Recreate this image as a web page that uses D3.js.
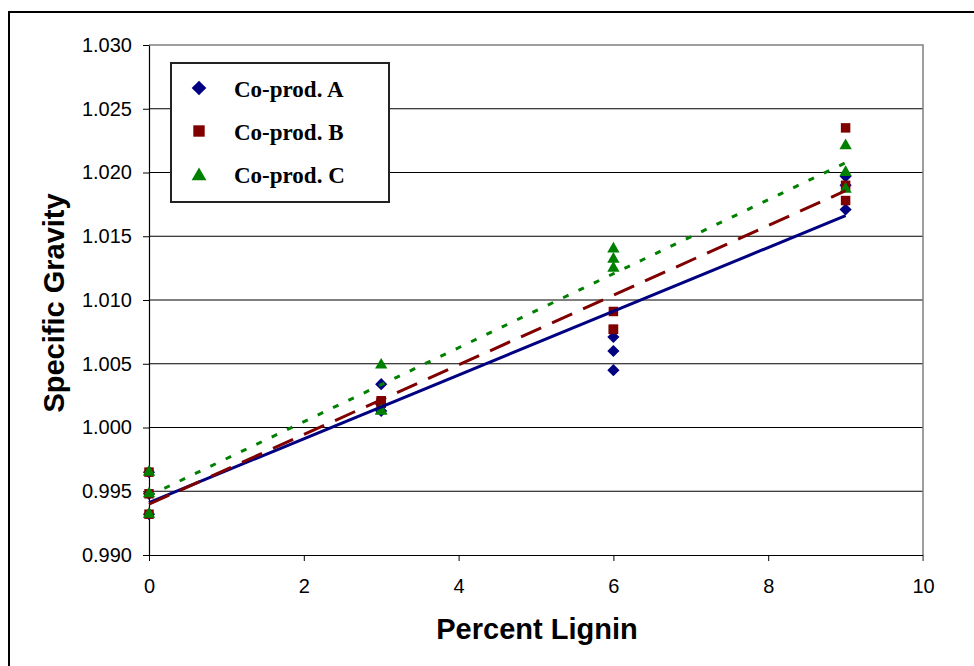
<!DOCTYPE html>
<html>
<head>
<meta charset="utf-8">
<script src="https://cdn.jsdelivr.net/npm/d3@7"></script>
<style>
  body { margin: 0; background: #fff; }
  svg { display: block; }
</style>
</head>
<body>
<div id="chart"></div>
<script>
// Percent lignin for each measurement (3 replicates per level)
const lignin = [0, 0, 0, 3, 3, 3, 6, 6, 6, 9, 9, 9];

// Specific gravity per co-product
const coprodA = [0.9965, 0.9948, 0.9932, 1.0034, 1.0018, 1.0013, 1.0071, 1.0060, 1.0045, 1.0197, 1.0190, 1.0171];
const coprodB = [0.9965, 0.9948, 0.9932, 1.0021, 1.0020, 1.0019, 1.0091, 1.0077, 1.0077, 1.0235, 1.0190, 1.0178];
const coprodC = [0.9965, 0.9948, 0.9932, 1.0049, 1.0013, 1.0013, 1.0140, 1.0132, 1.0125, 1.0221, 1.0200, 1.0187];

const seriesNames = ["Co-prod. A", "Co-prod. B", "Co-prod. C"];
const xTicks = [0, 2, 4, 6, 8, 10];
const yTicks = [0.990, 0.995, 1.000, 1.005, 1.010, 1.015, 1.020, 1.025, 1.030];

const W = 974, H = 666;
const margin = { top: 45, right: 51, bottom: 111, left: 149 };
const width = W - margin.left - margin.right;
const height = H - margin.top - margin.bottom;

const series = [
    { name: seriesNames[0], values: coprodA, color: "#000080", symbol: "diamond", dash: null },
    { name: seriesNames[1], values: coprodB, color: "#800000", symbol: "square", dash: "22,12" },
    { name: seriesNames[2], values: coprodC, color: "#008000", symbol: "triangle", dash: "6,11" }
];

const svg = d3.select("#chart").append("svg")
    .attr("width", W)
    .attr("height", H);

// outer frame
svg.append("rect")
    .attr("x", 9).attr("y", 12)
    .attr("width", 1000).attr("height", 700)
    .attr("fill", "none")
    .attr("stroke", "#000")
    .attr("stroke-width", 2);

const g = svg.append("g")
    .attr("transform", `translate(${margin.left},${margin.top})`);

const x = d3.scaleLinear().domain([0, 10]).range([0, width]);
const y = d3.scaleLinear().domain([0.990, 1.030]).range([height, 0]);

// gridlines
g.append("g")
    .selectAll("line")
    .data(yTicks.slice(1, -1))
    .enter()
    .append("line")
    .attr("x1", 0).attr("x2", width)
    .attr("y1", d => y(d)).attr("y2", d => y(d))
    .attr("stroke", "#000")
    .attr("stroke-width", 1);

// plot area border (top / right)
g.append("path")
    .attr("d", `M0,${y(1.030)}H${x(10)}V${y(0.990) + 6}`)
    .attr("fill", "none")
    .attr("stroke", "#808080")
    .attr("stroke-width", 1.5);

// axes
const xAxis = g.append("g")
    .attr("transform", `translate(0,${height})`)
    .call(d3.axisBottom(x).tickValues(xTicks).tickSizeOuter(0).tickSizeInner(6).tickPadding(18).tickFormat(d3.format("d")));

const yAxis = g.append("g")
    .call(d3.axisLeft(y).tickValues(yTicks).tickSizeOuter(0).tickSizeInner(6).tickPadding(11).tickFormat(d3.format(".3f")));

[xAxis, yAxis].forEach(a => {
    a.select(".domain").attr("stroke", "#000").attr("stroke-width", 1.2);
    a.selectAll(".tick line").attr("stroke", "#000");
    a.selectAll("text")
        .attr("font-family", "'Liberation Sans', Arial, sans-serif")
        .attr("font-size", 20)
        .attr("fill", "#000");
});
xAxis.select(".tick:last-of-type line").attr("stroke", "#808080");

// markers
function symbolPath(type, scale) {
    const s = scale || 1;
    if (type === "diamond") return d3.symbol(d3.symbolSquare, 74 * s * s)();
    if (type === "square") return d3.symbol(d3.symbolSquare, 90 * s * s)();
    return d3.symbol(d3.symbolTriangle, 66 * s * s)();
}

series.forEach(sr => {
    g.append("g")
        .selectAll("path")
        .data(sr.values.map((v, i) => ({ x: lignin[i], y: v })))
        .enter()
        .append("path")
        .attr("d", symbolPath(sr.symbol))
        .attr("transform", d => `translate(${x(d.x)},${y(d.y)})` + (sr.symbol === "diamond" ? " rotate(45)" : ""))
        .attr("fill", sr.color);
});

// linear trendlines (least squares, drawn over the measured range)
series.forEach(sr => {
    const pts = sr.values.map((v, i) => [lignin[i], v]);
    const mx = d3.mean(pts, p => p[0]);
    const my = d3.mean(pts, p => p[1]);
    const slope = d3.sum(pts, p => (p[0] - mx) * (p[1] - my)) / d3.sum(pts, p => (p[0] - mx) ** 2);
    const icpt = my - slope * mx;
    const ends = d3.extent(lignin);
    g.append("line")
        .attr("x1", x(ends[0])).attr("y1", y(icpt + slope * ends[0]))
        .attr("x2", x(ends[1])).attr("y2", y(icpt + slope * ends[1]))
        .attr("stroke", sr.color)
        .attr("stroke-width", 3)
        .attr("stroke-dasharray", sr.dash);
});

// axis titles
svg.append("text")
    .attr("x", 537).attr("y", 639)
    .attr("text-anchor", "middle")
    .attr("font-family", "'Liberation Sans', Arial, sans-serif")
    .attr("font-weight", "bold")
    .attr("font-size", 29)
    .text("Percent Lignin");

svg.append("text")
    .attr("transform", "translate(64,303) rotate(-90)")
    .attr("text-anchor", "middle")
    .attr("font-family", "'Liberation Sans', Arial, sans-serif")
    .attr("font-weight", "bold")
    .attr("font-size", 29)
    .text("Specific Gravity");

// legend
const legend = svg.append("g");
legend.append("rect")
    .attr("x", 171).attr("y", 63)
    .attr("width", 218).attr("height", 139)
    .attr("fill", "#fff")
    .attr("stroke", "#222")
    .attr("stroke-width", 2);

series.forEach((sr, i) => {
    const cy = 88 + i * 43;
    legend.append("path")
        .attr("d", symbolPath(sr.symbol, 1.2))
        .attr("transform", `translate(199,${cy + (sr.symbol === "triangle" ? 2 : 0)})` + (sr.symbol === "diamond" ? " rotate(45)" : ""))
        .attr("fill", sr.color);
    legend.append("text")
        .attr("x", 234).attr("y", cy + 9)
        .attr("font-family", "'Liberation Serif', 'Times New Roman', serif")
        .attr("font-weight", "bold")
        .attr("font-size", 23)
        .text(sr.name);
});
</script>
</body>
</html>
